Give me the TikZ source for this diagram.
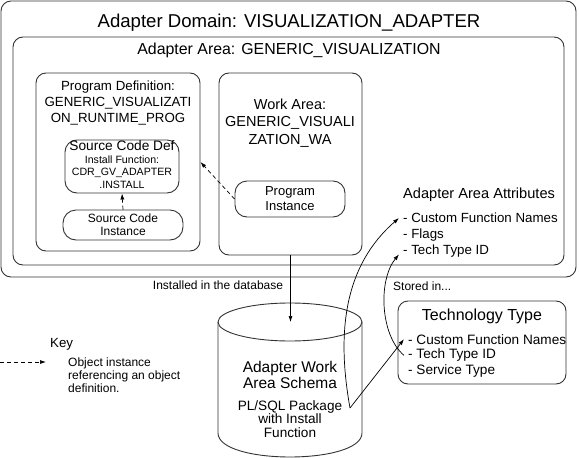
\documentclass[tikz,border=0pt]{standalone}
\usepackage{fontspec}
\setmainfont{Liberation Sans}
\usetikzlibrary{arrows.meta,calc}
\begin{document}
\begin{tikzpicture}[x=1pt,y=-1pt,
  box/.style={draw=black!80, line width=0.9pt, rounded corners=10pt, inner sep=0pt},
  txt/.style={inner sep=0pt, align=center},
  item/.style={inner xsep=4pt, inner ysep=0pt, anchor=base west, font=\fontsize{13.3}{16}\selectfont},
  titem/.style={inner xsep=4pt, inner ysep=0pt, anchor=base west, font=\fontsize{13.6}{16}\selectfont},
  arr/.style={line width=0.7pt, -{Latex[length=6pt,width=4pt]}},
  ref/.style={arr, dash pattern=on 4pt off 3pt}]
\useasboundingbox (0,0) rectangle (579,458);

% boxes
\node[box, minimum width=575, minimum height=276] (domain) at (288.5,139) {};
\node[box, minimum width=551, minimum height=228] (area) at (288.5,151) {};
\node[box, minimum width=164, minimum height=178] (progdef) at (118,162) {};
\node[box, minimum width=143, minimum height=182] (workarea) at (290.5,164) {};
\node[box, rounded corners=12pt, minimum width=110, minimum height=36] (proginst) at (290,199) {};
\node[box, rounded corners=12pt, minimum width=114, minimum height=53] (scdef) at (122,166.5) {};
\node[box, rounded corners=13pt, minimum width=120, minimum height=30] (scinst) at (123,225) {};
\node[box, minimum width=168, minimum height=83] (tech) at (482,342.5) {};

% cylinder (Adapter Work Area Schema)
\node[inner sep=0pt, minimum width=144, minimum height=154] (schema) at (290,380) {};
\draw[black!80, line width=0.9pt] (290,322) ellipse [x radius=72, y radius=19];
\draw[black!80, line width=0.9pt] (218,322) -- (218,433) .. controls (218,465) and (362,465) .. (362,433) -- (362,322);
\coordinate (schematop) at (290.5,322);
\coordinate (schemaV) at (350,408);

% titles
\node[txt, anchor=base, font=\fontsize{18.6}{22}\selectfont] (tdomain) at (289,27.7) {Adapter Domain: VISUALIZATION\_ADAPTER};
\node[txt, anchor=base, font=\fontsize{15.9}{19}\selectfont] (tarea) at (289,54.7) {Adapter Area: GENERIC\_VISUALIZATION};
\node[txt, font=\fontsize{13.3}{16}\selectfont] (tprogdef) at (118,103.3) {Program Definition:\\GENERIC\_VISUALIZATI\\ON\_RUNTIME\_PROG};
\node[txt, font=\fontsize{14.5}{17.5}\selectfont] (tworkarea) at (290,123) {Work Area:\\GENERIC\_VISUALI\\ZATION\_WA};
\node[txt, font=\fontsize{13}{15}\selectfont] (tproginst) at (290,198.5) {Program\\Instance};
\node[txt, font=\fontsize{10.6}{12.5}\selectfont] (tscdef) at (122,164.6) {{\fontsize{13.7}{12.5}\selectfont Source Code Def}\\Install Function:\\CDR\_GV\_ADAPTER\\.INSTALL};
\node[txt, font=\fontsize{12}{13}\selectfont] (tscinst) at (123,224.5) {Source Code\\Instance};

% attributes
\node[inner sep=0pt, anchor=base west, font=\fontsize{14.6}{17}\selectfont] (tattr) at (403,198) {Adapter Area Attributes};
\node[item] (attr1) at (399,222.8) {- Custom Function Names};
\node[item] (attr2) at (399,238.8) {- Flags};
\node[item] (attr3) at (399,254.8) {- Tech Type ID};

% labels below
\node[txt, anchor=base, font=\fontsize{12}{14}\selectfont] (linstalled) at (218,289.3) {Installed in the database};
\node[inner sep=0pt, anchor=base west, font=\fontsize{12}{14}\selectfont] (lstored) at (393,290) {Stored in...};

% technology type
\node[txt, anchor=base, font=\fontsize{16}{19}\selectfont] (ttech) at (482,320.7) {Technology Type};
\node[titem] (tech1) at (404,344) {- Custom Function Names};
\node[titem] (tech2) at (404,358.9) {- Tech Type ID};
\node[titem] (tech3) at (404,374.9) {- Service Type};

% cylinder text
\node[txt, font=\fontsize{15.5}{16}\selectfont] (tschema) at (290,375) {Adapter Work\\Area Schema};
\node[txt, font=\fontsize{13.6}{13.2}\selectfont] (tpkg) at (290,419) {PL/SQL Package\\with Install\\Function};

% key
\node[inner sep=0pt, anchor=base west, font=\fontsize{13.3}{16}\selectfont] (tkey) at (50,347.8) {Key};
\coordinate (keyA) at (0,362);
\coordinate (keyB) at (46,362);
\node[txt, align=left, anchor=west, font=\fontsize{12}{13}\selectfont] (tkeytext) at (68,375) {Object instance\\referencing an object\\definition.};

% connectors
\draw[arr] (workarea.south) -- (schematop);
\draw[ref] (proginst.west) -- (progdef.east);
\draw[ref] (scinst.north) -- (scdef.south);
\draw[arr] (schemaV) .. controls (336,330) and (345,265) .. (attr1.west);
\draw[arr] (schemaV) -- (tech1.west);
\draw[arr] (tech2.west) .. controls (380,335) and (378,280) .. ([yshift=-3pt]attr3.west);
\draw[ref] (keyA) -- (keyB);
\end{tikzpicture}
\end{document}
